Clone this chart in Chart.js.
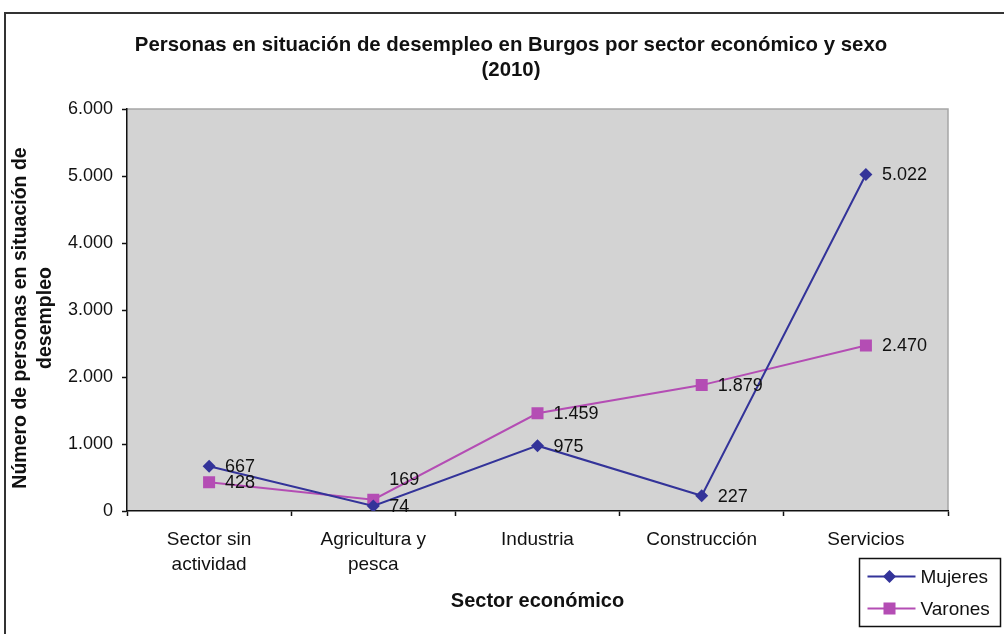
<!DOCTYPE html>
<html>
<head>
<meta charset="utf-8">
<script src="https://cdn.jsdelivr.net/npm/chart.js@4.4.0/dist/chart.umd.min.js"></script>
<style>
  html, body { margin: 0; padding: 0; background: #fff; }
  #wrap { width: 1004px; height: 634px; }
</style>
</head>
<body>
<div id="wrap"><canvas id="chart" width="1004" height="634"></canvas></div>
<script>
// data
const sectores = [['Sector sin', 'actividad'], ['Agricultura y', 'pesca'], 'Industria', 'Construcción', 'Servicios'];
const mujeres = [667, 74, 975, 227, 5022];
const varones = [428, 169, 1459, 1879, 2470];
const yTicks = [0, 1000, 2000, 3000, 4000, 5000, 6000];

const tituloLineas = ['Personas en situación de desempleo en Burgos por sector económico y sexo', '(2010)'];
const tituloY = ['Número de personas en situación de', 'desempleo'];

const FONT = '"Liberation Sans", Arial, sans-serif';

function fmt(v) {
    return String(v).replace(/\B(?=(\d{3})+(?!\d))/g, '.');
}

// gray plot area + outer frame
const background = {
    id: 'background',
    beforeDraw(chart) {
        const ctx = chart.ctx;
        const a = chart.chartArea;
        ctx.save();
        ctx.strokeStyle = '#333';
        ctx.lineWidth = 2;
        ctx.beginPath();
        ctx.moveTo(5, 640);
        ctx.lineTo(5, 13);
        ctx.lineTo(1004, 13);
        ctx.stroke();
        ctx.fillStyle = '#d3d3d3';
        ctx.fillRect(a.left, a.top, a.right - a.left, a.bottom - a.top);
        ctx.strokeStyle = '#a6a6a6';
        ctx.lineWidth = 1.5;
        ctx.beginPath();
        ctx.moveTo(a.left, a.top);
        ctx.lineTo(a.right, a.top);
        ctx.lineTo(a.right, a.bottom);
        ctx.stroke();
        ctx.restore();
    }
};

// chart title and y-axis title (placed like the original, not centred on the plot)
const titles = {
    id: 'titles',
    afterDraw(chart) {
        const ctx = chart.ctx;
        ctx.save();
        ctx.fillStyle = '#111';
        ctx.textAlign = 'center';
        ctx.textBaseline = 'middle';
        ctx.font = 'bold 20.4px ' + FONT;
        tituloLineas.forEach((t, i) => ctx.fillText(t, 511, 45 + i * 25));
        ctx.font = 'bold 19.5px ' + FONT;
        ctx.translate(21, 318);
        ctx.rotate(-Math.PI / 2);
        tituloY.forEach((t, i) => ctx.fillText(t, 0, i * 25));
        ctx.restore();
    }
};

// value labels to the right of each point
const valueLabels = {
    id: 'valueLabels',
    afterDatasetsDraw(chart, args, opts) {
        const ctx = chart.ctx;
        const nudge = opts.nudge || {};
        ctx.save();
        ctx.font = '18px ' + FONT;
        ctx.fillStyle = '#111';
        ctx.textAlign = 'left';
        ctx.textBaseline = 'middle';
        chart.data.datasets.forEach((ds, i) => {
            chart.getDatasetMeta(i).data.forEach((pt, j) => {
                const dy = (nudge[i] && nudge[i][j]) || 0;
                ctx.fillText(fmt(ds.data[j]), pt.x + 16, pt.y + 1 + dy);
            });
        });
        ctx.restore();
    }
};

// boxed legend in the lower right corner
const boxLegend = {
    id: 'boxLegend',
    afterDraw(chart) {
        const ctx = chart.ctx;
        const x0 = 859.5, y0 = 558.5, w = 141, h = 68;
        ctx.save();
        ctx.fillStyle = '#fff';
        ctx.fillRect(x0, y0, w, h);
        ctx.strokeStyle = '#111';
        ctx.lineWidth = 1.5;
        ctx.strokeRect(x0, y0, w, h);
        ctx.font = '19px ' + FONT;
        ctx.textBaseline = 'middle';
        chart.data.datasets.forEach((ds, i) => {
            const y = y0 + 18 + i * 32;
            ctx.strokeStyle = ds.borderColor;
            ctx.lineWidth = 2;
            ctx.beginPath();
            ctx.moveTo(x0 + 8, y);
            ctx.lineTo(x0 + 56, y);
            ctx.stroke();
            ctx.fillStyle = ds.backgroundColor;
            Chart.helpers.drawPoint(ctx, {
                pointStyle: ds.pointStyle,
                radius: ds.pointRadius,
                borderWidth: 0
            }, x0 + 30, y);
            ctx.fillStyle = '#111';
            ctx.fillText(ds.label, x0 + 61, y + 1);
        });
        ctx.restore();
    }
};

new Chart(document.getElementById('chart'), {
    type: 'line',
    data: {
        labels: sectores,
        datasets: [{
            label: 'Mujeres',
            data: mujeres,
            borderColor: '#333399',
            backgroundColor: '#333399',
            borderWidth: 2,
            pointStyle: 'rectRot',
            pointRadius: 6.5,
            pointBorderWidth: 0,
            tension: 0
        }, {
            label: 'Varones',
            data: varones,
            borderColor: '#b44db4',
            backgroundColor: '#b44db4',
            borderWidth: 2,
            pointStyle: 'rect',
            pointRadius: 8.5,
            pointBorderWidth: 0,
            tension: 0
        }]
    },
    options: {
        responsive: false,
        animation: false,
        layout: { padding: { left: 0, right: 56, top: 109, bottom: 0 } },
        plugins: {
            legend: { display: false },
            tooltip: { enabled: false },
            title: { display: false },
            valueLabels: { nudge: { 1: { 1: -21 } } }
        },
        scales: {
            x: {
                offset: true,
                grid: { offset: true, drawOnChartArea: false, color: '#111', tickLength: 5, tickWidth: 1.5 },
                border: { color: '#111', width: 1.5 },
                ticks: {
                    color: '#111',
                    padding: 11,
                    maxRotation: 0,
                    autoSkip: false,
                    font: { family: FONT, size: 19, lineHeight: 25 / 19 }
                },
                title: {
                    display: true,
                    text: 'Sector económico',
                    color: '#111',
                    font: { family: FONT, size: 20, weight: 'bold' },
                    padding: { top: 0, bottom: 21 }
                },
                afterFit(scale) { scale.height = 123; }
            },
            y: {
                min: 0,
                max: 6000,
                afterBuildTicks(scale) { scale.ticks = yTicks.map(v => ({ value: v })); },
                grid: { drawOnChartArea: false, color: '#111', tickLength: 5, tickWidth: 1.5 },
                border: { color: '#111', width: 1.5 },
                ticks: {
                    color: '#111',
                    padding: 9,
                    font: { family: FONT, size: 18 },
                    callback: v => fmt(v)
                },
                afterFit(scale) { scale.width = 127; }
            }
        }
    },
    plugins: [background, titles, valueLabels, boxLegend]
});
</script>
</body>
</html>
